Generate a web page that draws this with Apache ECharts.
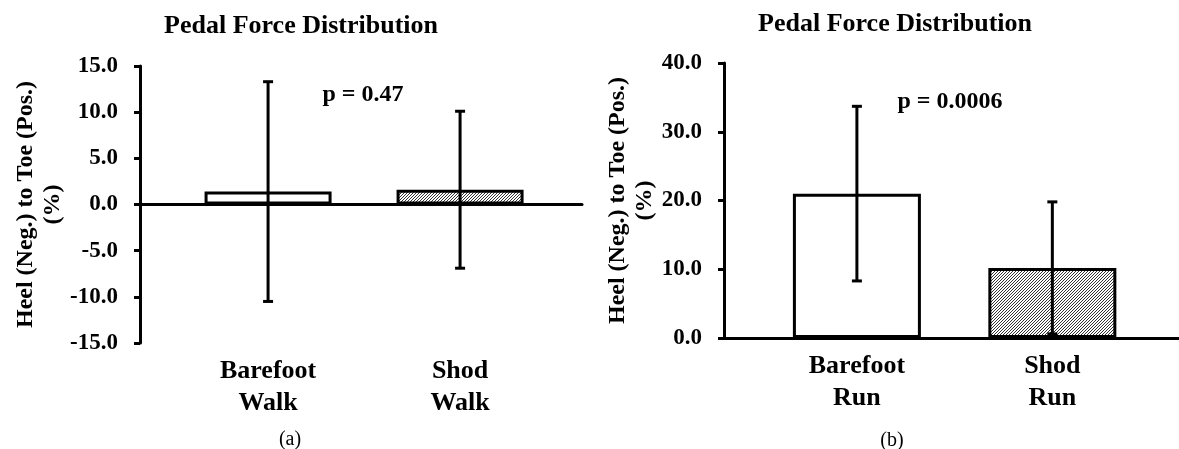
<!DOCTYPE html>
<html>
<head>
<meta charset="utf-8">
<script src="https://cdn.jsdelivr.net/npm/echarts@6/dist/echarts.min.js"></script>
<style>
  html, body { margin: 0; padding: 0; background: #fff; }
  #chart { width: 1179px; height: 449px; }
</style>
</head>
<body>
<div id="chart"></div>
<script>
// data
var walkCats = ['Barefoot\nWalk', 'Shod\nWalk'];
var walkMean = [1.4, 1.6];
var walkSd = [11.9, 8.5];
var runCats = ['Barefoot\nRun', 'Shod\nRun'];
var runMean = [21.0, 10.2];
var runSd = [12.7, 9.6];
var pTexts = ['p = 0.47', 'p = 0.0006'];
var captions = ['(a)', '(b)'];
var titleText = 'Pedal Force Distribution';
var yName = 'Heel (Neg.) to Toe (Pos.)\n(%)';

var FONT = '"Liberation Serif", "Times New Roman", serif';

// hatch pattern for the shod bars
function hatch() {
  var c = document.createElement('canvas');
  c.width = 3; c.height = 3;
  var g = c.getContext('2d');
  g.fillStyle = '#fff';
  g.fillRect(0, 0, 3, 3);
  g.strokeStyle = '#333';
  g.lineWidth = 1;
  g.beginPath();
  g.moveTo(-1, 4); g.lineTo(4, -1);
  g.moveTo(-1, 1); g.lineTo(1, -1);
  g.moveTo(2, 4); g.lineTo(4, 2);
  g.stroke();
  return { image: c, repeat: 'repeat' };
}
var hatchFill = hatch();

function barData(means) {
  return means.map(function (m, i) {
    return {
      value: [i + 1, m],
      itemStyle: { color: i === 0 ? '#fff' : hatchFill, borderColor: '#000', borderWidth: 3 }
    };
  });
}
function errData(means, sds) {
  return means.map(function (m, i) { return [i + 1, m - sds[i], m + sds[i]]; });
}

function renderErr(params, api) {
  var lo = api.coord([api.value(0), api.value(1)]);
  var hi = api.coord([api.value(0), api.value(2)]);
  var w = 5;
  var st = { stroke: '#000', lineWidth: 3 };
  return {
    type: 'group',
    children: [
      { type: 'line', shape: { x1: lo[0], y1: lo[1], x2: hi[0], y2: hi[1] }, style: st },
      { type: 'line', shape: { x1: lo[0] - w, y1: lo[1], x2: lo[0] + w, y2: lo[1] }, style: st },
      { type: 'line', shape: { x1: hi[0] - w, y1: hi[1], x2: hi[0] + w, y2: hi[1] }, style: st }
    ]
  };
}

// line axis (sits on zero) and label axis (at the bottom of the grid)
function lineAxis(idx, min, max) {
  return {
    type: 'value', gridIndex: idx, min: min, max: max, position: 'bottom',
    splitLine: { show: false },
    axisTick: { show: false },
    axisLabel: { show: false },
    axisLine: { show: true, onZero: true, lineStyle: { color: '#000', width: 3 } }
  };
}
function labelAxis(idx, cats, min, max) {
  return {
    type: 'value', gridIndex: idx, min: min, max: max, position: 'bottom',
    splitLine: { show: false },
    axisTick: { show: false },
    axisLine: { show: false, onZero: false },
    axisLabel: {
      customValues: [1, 2],
      formatter: function (v) { return cats[Math.round(v) - 1] || ''; },
      margin: 12, color: '#000', fontFamily: FONT, fontWeight: 'bold',
      fontSize: 26, lineHeight: 32
    }
  };
}
function yAxisFor(idx, min, max, interval, nameGap) {
  return {
    type: 'value', gridIndex: idx, min: min, max: max, interval: interval,
    splitLine: { show: false },
    axisLine: { show: true, onZero: false, lineStyle: { color: '#000', width: 3 } },
    axisTick: { show: true, length: 6, lineStyle: { color: '#000', width: 3 } },
    axisLabel: {
      formatter: function (v) { return v.toFixed(1); },
      margin: 22, color: '#000', fontFamily: FONT, fontWeight: 'bold', fontSize: 23
    },
    name: yName, nameLocation: 'middle', nameRotate: 90, nameGap: nameGap,
    nameTextStyle: { color: '#000', fontFamily: FONT, fontWeight: 'bold', fontSize: 24, lineHeight: 27 }
  };
}

var myChart = echarts.init(document.getElementById('chart'));

var option = {
  backgroundColor: '#fff',
  animation: false,
  title: [
    { text: titleText, left: 296, top: 8, textAlign: 'center',
      textStyle: { fontFamily: FONT, fontWeight: 'bold', fontSize: 26, color: '#000' } },
    { text: titleText, left: 890, top: 6, textAlign: 'center',
      textStyle: { fontFamily: FONT, fontWeight: 'bold', fontSize: 26, color: '#000' } }
  ],
  grid: [
    { left: 140, right: 597, top: 66, bottom: 106, outerBoundsMode: 'none', containLabel: false },
    { left: 724, right: 0, top: 63, bottom: 111, outerBoundsMode: 'none', containLabel: false }
  ],
  xAxis: [
    lineAxis(0, 0.333, 2.635),
    labelAxis(0, walkCats, 0.333, 2.635),
    lineAxis(1, 0.32, 2.648),
    labelAxis(1, runCats, 0.32, 2.648)
  ],
  yAxis: [
    yAxisFor(0, -15, 15, 5, 73),
    yAxisFor(1, 0, 40, 10, 65)
  ],
  series: [
    { type: 'bar', xAxisIndex: 0, yAxisIndex: 0, barWidth: 127, data: barData(walkMean), z: 2 },
    { type: 'custom', xAxisIndex: 0, yAxisIndex: 0, renderItem: renderErr, data: errData(walkMean, walkSd), z: 5 },
    { type: 'bar', xAxisIndex: 2, yAxisIndex: 1, barWidth: 128, data: barData(runMean), z: 2 },
    { type: 'custom', xAxisIndex: 2, yAxisIndex: 1, renderItem: renderErr, data: errData(runMean, runSd), z: 5 }
  ],
  graphic: [
    { type: 'text', x: 363, y: 95, style: { text: pTexts[0], fontFamily: FONT, fontWeight: 'bold', fontSize: 24, fill: '#000', align: 'center', verticalAlign: 'middle' } },
    { type: 'text', x: 950, y: 102, style: { text: pTexts[1], fontFamily: FONT, fontWeight: 'bold', fontSize: 24, fill: '#000', align: 'center', verticalAlign: 'middle' } },
    { type: 'text', x: 290, y: 440, style: { text: captions[0], fontFamily: FONT, fontSize: 20, fill: '#000', align: 'center', verticalAlign: 'middle' } },
    { type: 'text', x: 892, y: 441, style: { text: captions[1], fontFamily: FONT, fontSize: 20, fill: '#000', align: 'center', verticalAlign: 'middle' } }
  ]
};

myChart.setOption(option);
</script>
</body>
</html>
